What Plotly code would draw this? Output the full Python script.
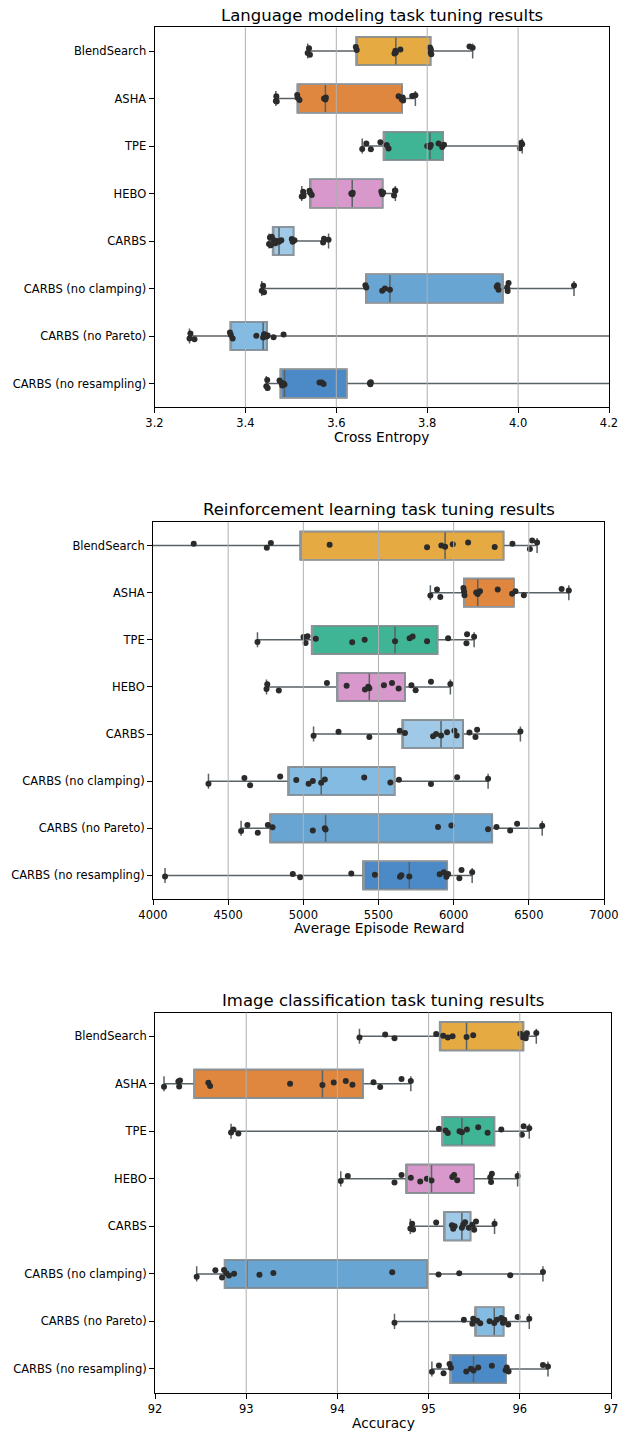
import numpy as np
import plotly.graph_objects as go

W, H = 624, 1433

methods = ["BlendSearch", "ASHA", "TPE", "HEBO", "CARBS",
           "CARBS (no clamping)", "CARBS (no Pareto)", "CARBS (no resampling)"]

# ---- Language modeling (Cross Entropy) ----
lm_blendsearch = [3.537, 3.540, 3.542, 3.643, 3.645, 3.728, 3.730, 3.731, 3.741, 3.806, 3.807, 3.808, 3.809, 3.893, 3.900]
lm_asha = [3.467, 3.468, 3.469, 3.514, 3.515, 3.519, 3.573, 3.576, 3.577, 3.737, 3.744, 3.746, 3.747, 3.767, 3.774]
lm_tpe = [3.657, 3.666, 3.676, 3.697, 3.711, 3.715, 3.800, 3.806, 3.808, 3.825, 3.833, 3.837, 4.004, 4.007, 4.009]
lm_hebo = [3.524, 3.527, 3.528, 3.541, 3.543, 3.546, 3.633, 3.635, 3.636, 3.699, 3.701, 3.703, 3.727, 3.729, 3.730]
lm_carbs = [3.452, 3.454, 3.456, 3.458, 3.462, 3.466, 3.470, 3.474, 3.479, 3.502, 3.504, 3.508, 3.571, 3.573, 3.583]
lm_no_clamping = [3.436, 3.439, 3.441, 3.664, 3.666, 3.701, 3.707, 3.718, 3.953, 3.955, 3.957, 3.976, 3.977, 3.979, 4.123]
lm_no_pareto = [3.277, 3.279, 3.288, 3.366, 3.368, 3.372, 3.424, 3.439, 3.441, 3.443, 3.447, 3.449, 3.462, 3.484, 4.350]
lm_no_resampling = [3.446, 3.448, 3.449, 3.475, 3.479, 3.481, 3.484, 3.486, 3.563, 3.568, 3.572, 3.674, 3.675, 3.676, 4.300]
lm_ticks = [3.2, 3.4, 3.6, 3.8, 4.0, 4.2]
lm_ticktext = ["3.2", "3.4", "3.6", "3.8", "4.0", "4.2"]

# ---- Reinforcement learning (Average Episode Reward) ----
rl_blendsearch = [3800, 4271, 4757, 4784, 5175, 5823, 5918, 5943, 5994, 6096, 6273, 6391, 6507, 6522, 6555]
rl_asha = [5845, 5889, 5911, 6065, 6069, 6072, 6150, 6160, 6175, 6293, 6389, 6411, 6467, 6718, 6766]
rl_tpe = [4695, 5001, 5015, 5028, 5083, 5325, 5408, 5610, 5707, 5727, 5823, 5963, 6085, 6089, 6136]
rl_hebo = [4755, 4760, 4837, 5157, 5288, 5410, 5432, 5439, 5536, 5590, 5634, 5719, 5747, 5849, 5978]
rl_carbs = [5068, 5234, 5439, 5641, 5676, 5863, 5883, 5916, 5956, 6005, 6020, 6105, 6145, 6156, 6444]
rl_no_clamping = [4369, 4608, 4646, 4846, 4953, 5035, 5063, 5119, 5143, 5405, 5579, 5636, 5849, 6023, 6229]
rl_no_pareto = [4586, 4628, 4697, 4764, 4795, 5063, 5143, 5148, 5896, 5985, 6229, 6285, 6376, 6422, 6589]
rl_no_resampling = [4080, 4930, 4979, 5319, 5476, 5643, 5652, 5705, 5907, 5934, 5952, 5963, 6038, 6052, 6123]
rl_ticks = [4000, 4500, 5000, 5500, 6000, 6500, 7000]
rl_ticktext = ["4000", "4500", "5000", "5500", "6000", "6500", "7000"]

# ---- Image classification (Accuracy) ----
ic_blendsearch = [94.242, 94.524, 94.626, 95.083, 95.160, 95.211, 95.263, 95.416, 95.489, 96.005, 96.030, 96.050, 96.065, 96.078, 96.181]
ic_asha = [92.099, 92.256, 92.265, 92.274, 92.585, 92.604, 93.481, 93.836, 93.960, 94.092, 94.165, 94.396, 94.469, 94.703, 94.805]
ic_tpe = [92.834, 92.860, 92.914, 95.113, 95.186, 95.211, 95.339, 95.365, 95.420, 95.544, 95.647, 95.797, 96.023, 96.042, 96.104]
ic_hebo = [94.037, 94.114, 94.626, 94.703, 94.805, 94.908, 94.981, 95.032, 95.260, 95.280, 95.314, 95.676, 95.685, 95.694, 95.976]
ic_carbs = [94.800, 94.820, 94.830, 95.083, 95.255, 95.270, 95.285, 95.365, 95.380, 95.400, 95.440, 95.480, 95.500, 95.520, 95.723]
ic_no_clamping = [92.457, 92.662, 92.735, 92.757, 92.782, 92.811, 92.867, 93.145, 93.298, 94.601, 95.109, 95.336, 95.895, 96.254]
ic_no_pareto = [94.626, 95.387, 95.480, 95.489, 95.533, 95.566, 95.669, 95.720, 95.749, 95.797, 95.815, 95.830, 95.873, 95.976, 96.104]
ic_no_resampling = [95.036, 95.113, 95.164, 95.230, 95.244, 95.413, 95.464, 95.493, 95.544, 95.694, 95.845, 95.857, 95.877, 96.254, 96.309]
ic_ticks = [92, 93, 94, 95, 96, 97]
ic_ticktext = ["92", "93", "94", "95", "96", "97"]

# ---- styles ----
C_BS, C_ASHA, C_TPE, C_HEBO = "#e6aa43", "#df873f", "#3fb595", "#d898cb"
B1, B2, B3, B4 = "#9fc9e6", "#84bbe2", "#68a5d2", "#4b8ac6"

panels = [
    dict(title="Language modeling task tuning results", xlabel="Cross Entropy",
         data=[lm_blendsearch, lm_asha, lm_tpe, lm_hebo, lm_carbs, lm_no_clamping, lm_no_pareto, lm_no_resampling],
         ticks=lm_ticks, ticktext=lm_ticktext, xr=[3.2, 4.2],
         colors=[C_BS, C_ASHA, C_TPE, C_HEBO, B1, B3, B2, B4],
         xpx=(154.5, 609.0), ypx=(27.3, 407.3), title_y=15.5, label_y=437.0),
    dict(title="Reinforcement learning task tuning results", xlabel="Average Episode Reward",
         data=[rl_blendsearch, rl_asha, rl_tpe, rl_hebo, rl_carbs, rl_no_clamping, rl_no_pareto, rl_no_resampling],
         ticks=rl_ticks, ticktext=rl_ticktext, xr=[4000, 7000],
         colors=[C_BS, C_ASHA, C_TPE, C_HEBO, B1, B2, B3, B4],
         xpx=(153.0, 604.0), ypx=(522.0, 899.0), title_y=510.0, label_y=928.0),
    dict(title="Image classification task tuning results", xlabel="Accuracy",
         data=[ic_blendsearch, ic_asha, ic_tpe, ic_hebo, ic_carbs, ic_no_clamping, ic_no_pareto, ic_no_resampling],
         ticks=ic_ticks, ticktext=ic_ticktext, xr=[92, 97],
         colors=[C_BS, C_ASHA, C_TPE, C_HEBO, B1, B3, B2, B4],
         xpx=(155.0, 611.0), ypx=(1012.5, 1392.7), title_y=1000.5, label_y=1422.7),
]

FONT = "DejaVu Sans"
DARK = "#596266"
EDGE = "#8f969b"
PT = "#2b2b2b"
TICKFONT = dict(family=FONT, size=11.5, color="black")

fig = go.Figure()
layout = dict(width=W, height=H, margin=dict(l=0, r=0, t=0, b=0, autoexpand=False),
              paper_bgcolor="white", plot_bgcolor="white", showlegend=False,
              boxmode="overlay", font=dict(family=FONT, color="black"))
annotations = []
shapes = []

for i, p in enumerate(panels):
    s = "" if i == 0 else str(i + 1)
    xa, ya = "x" + s, "y" + s
    for m, vals, col in zip(methods, p["data"], p["colors"]):
        v = np.asarray(vals, dtype=float)
        q1, med, q3 = np.percentile(v, [25, 50, 75])
        lo, hi = v.min(), v.max()
        # box with whiskers to min/max
        fig.add_trace(go.Box(y=[m], q1=[q1], median=[med], q3=[q3], lowerfence=[lo], upperfence=[hi],
                             orientation="h", fillcolor=col, line=dict(color=DARK, width=1.5),
                             whiskerwidth=0.53, width=0.6, boxpoints=False,
                             xaxis=xa, yaxis=ya, hoverinfo="skip"))
        # lighter box edge
        fig.add_trace(go.Box(y=[m], q1=[q1], median=[q1], q3=[q3], lowerfence=[q1], upperfence=[q3],
                             orientation="h", fillcolor="rgba(0,0,0,0)", line=dict(color=EDGE, width=1.5),
                             whiskerwidth=0, width=0.6, boxpoints=False,
                             xaxis=xa, yaxis=ya, hoverinfo="skip"))
        # jittered strip points
        fig.add_trace(go.Box(x=v, y=[m] * len(v), orientation="h", boxpoints="all", jitter=0.4, pointpos=0,
                             fillcolor="rgba(0,0,0,0)", line=dict(color="rgba(0,0,0,0)", width=0),
                             marker=dict(color=PT, size=6), width=0.6,
                             xaxis=xa, yaxis=ya, hoverinfo="skip"))
    xd = [p["xpx"][0] / W, p["xpx"][1] / W]
    yd = [1 - p["ypx"][1] / H, 1 - p["ypx"][0] / H]
    layout["xaxis" + s] = dict(domain=xd, range=p["xr"], anchor=ya, tickvals=p["ticks"], ticktext=p["ticktext"],
                               ticks="outside", ticklen=5, tickwidth=1, tickcolor="black", automargin=False,
                               showgrid=False, zeroline=False, showline=True, linecolor="black",
                               linewidth=1, mirror=True, tickfont=TICKFONT)
    layout["yaxis" + s] = dict(domain=yd, type="category", categoryorder="array", categoryarray=methods,
                               range=[7.5, -0.5], anchor=xa, ticks="outside", ticklen=5, tickwidth=1,
                               tickcolor="black", showgrid=False, zeroline=False, showline=True,
                               linecolor="black", linewidth=1, mirror=True, automargin=False,
                               tickfont=TICKFONT)
    for t in p["ticks"][1:-1]:
        shapes.append(dict(type="line", xref=xa, yref=ya + " domain", x0=t, x1=t, y0=0, y1=1,
                           line=dict(color="#b0b0b0", width=1), layer="above"))
    xmid = (xd[0] + xd[1]) / 2
    annotations.append(dict(text=p["title"], xref="paper", yref="paper", x=xmid, y=1 - p["title_y"] / H,
                            xanchor="center", yanchor="middle", showarrow=False,
                            font=dict(family=FONT, size=16.5, color="black")))
    annotations.append(dict(text=p["xlabel"], xref="paper", yref="paper", x=xmid, y=1 - p["label_y"] / H,
                            xanchor="center", yanchor="middle", showarrow=False,
                            font=dict(family=FONT, size=13.75, color="black")))

layout["annotations"] = annotations
layout["shapes"] = shapes
fig.update_layout(**layout)
fig.write_html("out.html")
